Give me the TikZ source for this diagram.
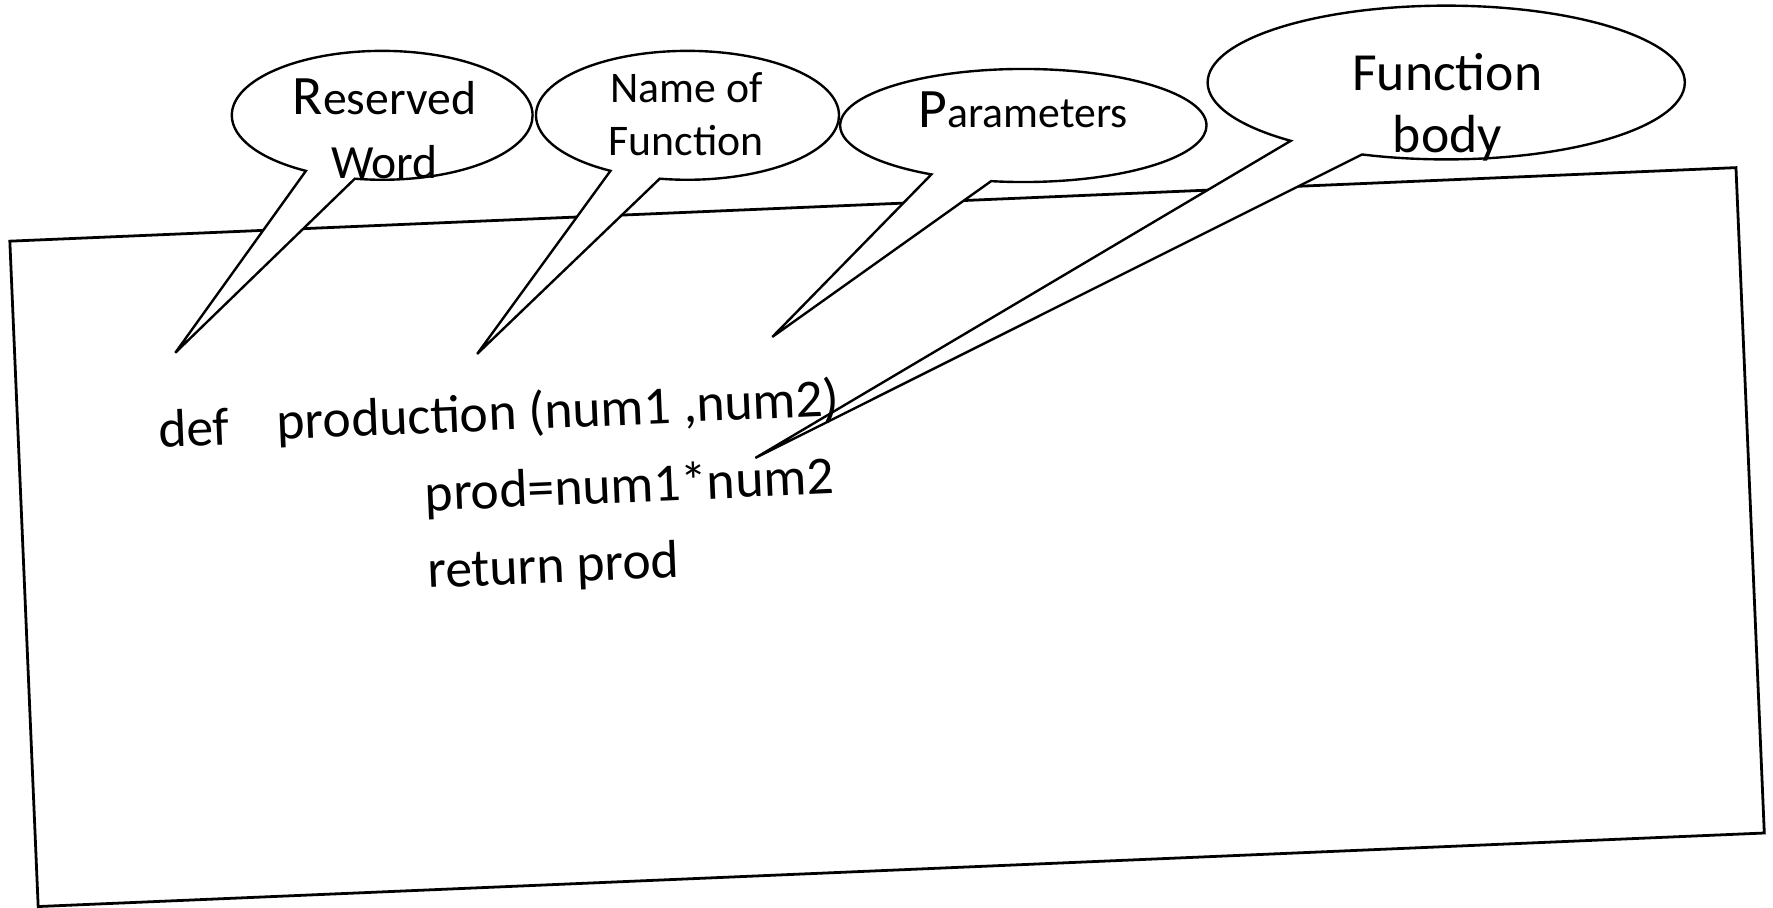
\documentclass[tikz,border=0pt]{standalone}
\usepackage{fontspec}
\setmainfont{Carlito}
\usetikzlibrary{shapes.callouts}
\newcommand{\initcap}[1]{{\fontsize{14}{16}\selectfont #1}}
\tikzset{
  paper/.style={draw, line width=0.7pt, inner sep=0pt},
  bubble/.style={ellipse callout, draw, fill=white, line width=0.6pt,
                 inner sep=0pt, callout pointer arc=20},
  tag/.style={align=center, inner sep=0pt, font=\fontsize{12}{16}\selectfont},
  smalltag/.style={tag, font=\fontsize{11}{13.5}\selectfont},
  code/.style={inner sep=0pt, anchor=base west, rotate=2.44,
               font=\fontsize{13.5}{16}\selectfont},
}
\begin{document}
\begin{tikzpicture}
  \useasboundingbox (0,0) rectangle (15.68,8.03);
  % the tilted sheet
  \node[paper, rotate=2.44, minimum width=15.28cm, minimum height=5.89cm] (sheet) at (7.845,3.28) {};

  % where the bubbles point
  \coordinate (tipRW) at (1.55,4.91);
  \coordinate (tipNF) at (4.22,4.90);
  \coordinate (tipPA) at (6.83,5.05);
  \coordinate (tipFB) at (6.68,3.98);

  % bubbles
  \node[bubble, minimum width=2.66cm, minimum height=1.14cm,
        callout absolute pointer={(tipRW)}] (bubRW) at (3.38,7.01) {};
  \node[bubble, minimum width=2.68cm, minimum height=1.14cm,
        callout absolute pointer={(tipNF)}] (bubNF) at (6.08,7.01) {};
  \node[bubble, minimum width=3.24cm, minimum height=1.00cm,
        callout absolute pointer={(tipPA)}] (bubPA) at (9.05,6.92) {};
  \node[bubble, minimum width=4.22cm, minimum height=1.36cm,
        callout absolute pointer={(tipFB)}] (bubFB) at (12.79,7.30) {};

  \node[tag] (txtRW) at (3.40,6.89) {\initcap{R}eserved\\Word};
  \node[smalltag] (txtNF) at (6.07,7.02) {Name of\\Function};
  \node[smalltag] (txtPA) at (9.05,7.06) {\initcap{P}arameters};
  \node[tag, font=\fontsize{13.5}{15.6}\selectfont] (txtFB) at (12.80,7.08) {Function\\body};

  % the code
  \node[code] (kwDef) at (1.40,4.07) {def};
  \node[code] (lnHead) at (2.45,4.14) {production (num1 ,num2)};
  \node[code] (lnProd) at (3.76,3.51) {prod=num1*num2};
  \node[code] (lnRet) at (3.78,2.83) {return prod};
\end{tikzpicture}
\end{document}
